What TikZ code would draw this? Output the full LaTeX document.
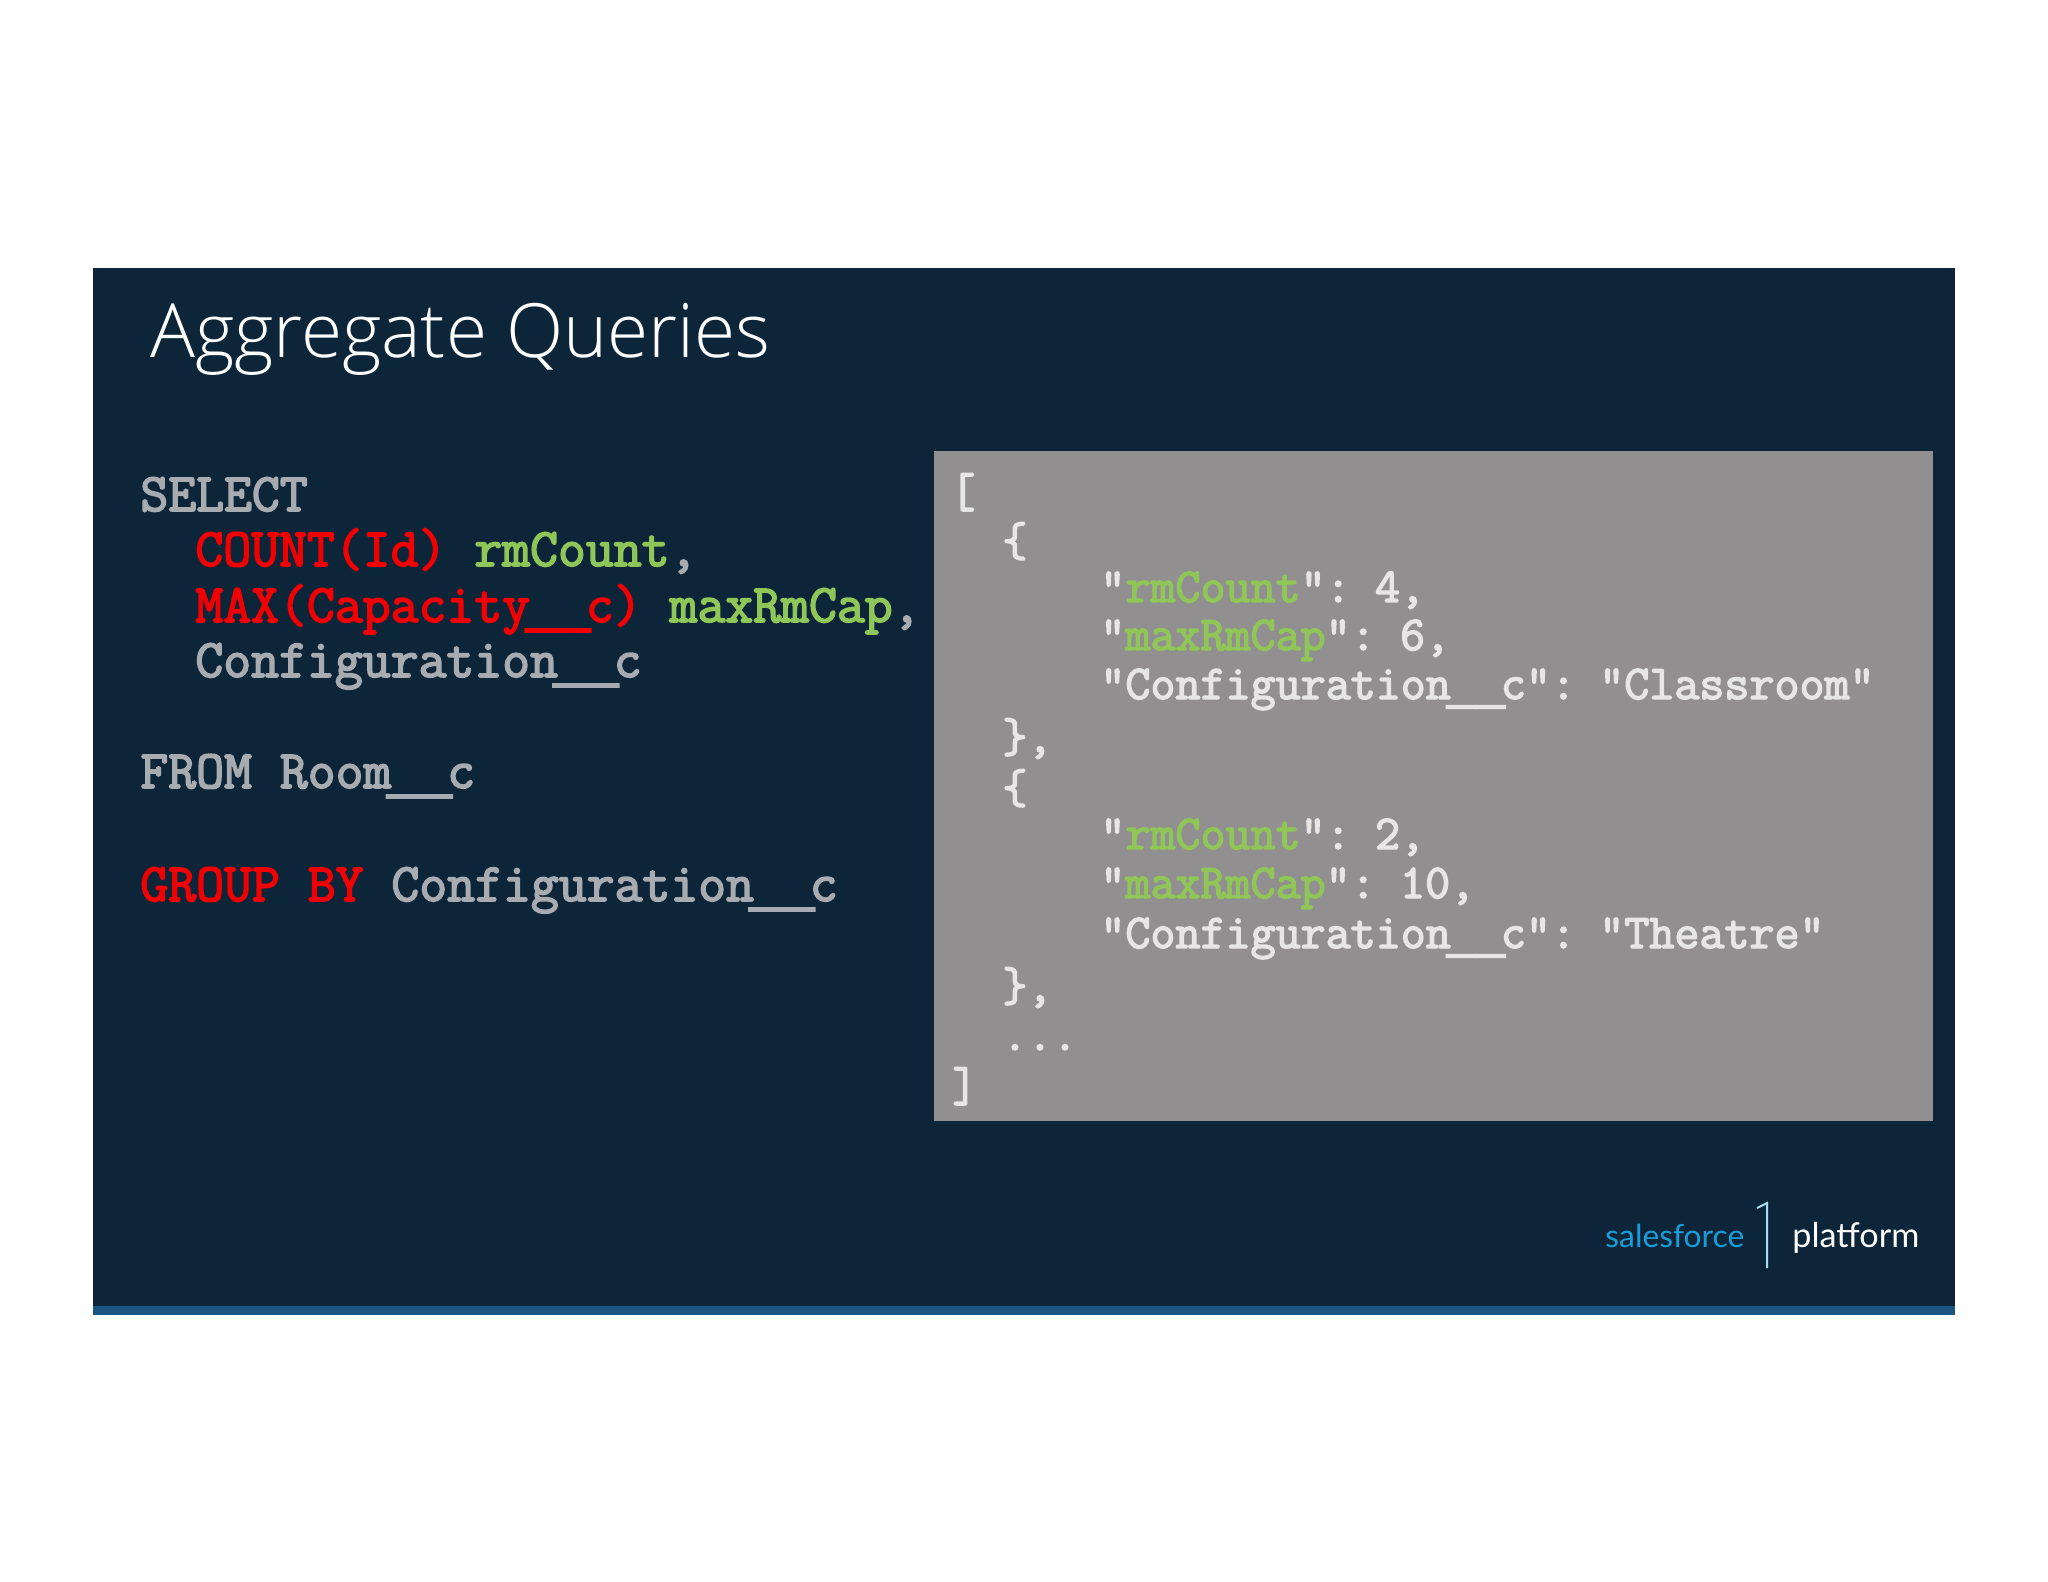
\documentclass[tikz,border=0pt]{standalone}
\usepackage{fontspec}
\setmainfont{Open Sans}[UprightFont=* Light]
\newfontfamily\logofont{Lato}
\newfontfamily\codefont{Latin Modern Mono}[FakeBold=3]
\newfontfamily\underfont{Liberation Mono Bold}[FakeBold=4]
\definecolor{panelblue}{HTML}{0D2539}
\definecolor{barblue}{HTML}{1B5583}
\definecolor{boxgrey}{HTML}{918F90}
\definecolor{sqlgrey}{HTML}{A8ABAF}
\definecolor{jsongrey}{HTML}{E6E6E6}
\definecolor{aliasgreen}{HTML}{90C558}
\definecolor{keyred}{HTML}{F00000}
\definecolor{logoblue}{HTML}{1A9CD8}
\definecolor{ticklight}{HTML}{A5DDF0}
\newcommand{\kw}[1]{\textcolor{keyred}{#1}}
\newcommand{\al}[1]{\textcolor{aliasgreen}{#1}}
\newcommand{\dunder}{\makebox[1.03em][c]{\raisebox{-2pt}{\underfont\_\_}}}
\tikzset{
	sqlline/.style={anchor=base west, inner sep=0pt, text=sqlgrey, font=\codefont\fontsize{27.08}{30}\selectfont},
	jsonline/.style={anchor=base west, inner sep=0pt, text=jsongrey, font=\codefont\fontsize{24.3}{28}\selectfont},
	logotext/.style={anchor=base west, inner sep=0pt, font=\logofont\selectfont}
}
\begin{document}
\begin{tikzpicture}[x=0.5pt, y=-0.5pt]
		\useasboundingbox (0,0) rectangle (2048,1582);
		\fill[panelblue] (93,268) rectangle (1955,1306);
		\fill[barblue] (93,1306) rectangle (1955,1315);
		\fill[boxgrey] (934,451) rectangle (1933,1121);
		\node[anchor=base west, inner sep=0pt, text=white, font=\fontsize{37.4}{42}\selectfont] (title) at (150,358) {Aggregate Queries};
		\node[sqlline] (select) at (140,511) {SELECT};
		\node[sqlline] (count) at (195,566) {\kw{COUNT(Id)} \al{rmCount},};
		\node[sqlline] (max) at (195,622) {\kw{MAX(Capacity\dunder c)} \al{maxRmCap},};
		\node[sqlline] (config) at (195,677) {Configuration\dunder c};
		\node[sqlline] (from) at (140,788) {FROM Room\dunder c};
		\node[sqlline] (group) at (140,901) {\kw{GROUP BY} Configuration\dunder c};
		\node[jsonline] (open) at (950,507) {[};
		\node[jsonline] (obja) at (1002,556) {\{};
		\node[jsonline] (rma) at (1100,602) {"\al{rmCount}":\hspace{-4.5pt} 4,};
		\node[jsonline] (capa) at (1100,650) {"\al{maxRmCap}":\hspace{-4.5pt} 6,};
		\node[jsonline] (cfga) at (1100,699) {"Configuration\dunder c":\hspace{-5pt} "Classroom"};
		\node[jsonline] (enda) at (1002,752) {\},};
		\node[jsonline] (objb) at (1002,803) {\{};
		\node[jsonline] (rmb) at (1100,849) {"\al{rmCount}":\hspace{-4.5pt} 2,};
		\node[jsonline] (capb) at (1100,898) {"\al{maxRmCap}":\hspace{-4.5pt} 10,};
		\node[jsonline] (cfgb) at (1100,948) {"Configuration\dunder c":\hspace{-5pt} "Theatre"};
		\node[jsonline] (endb) at (1002,1001) {\},};
		\node[jsonline] (dots) at (1002,1050) {...};
		\node[jsonline] (close) at (952,1101) {]};
		\node[logotext, text=logoblue, font=\logofont\fontsize{15.9}{20}\selectfont] (sales) at (1605,1247) {salesforce};
		\node[logotext, text=white, font=\logofont\fontsize{17.1}{20}\selectfont] (platform) at (1792,1247) {platform};
		\coordinate (ticka) at (1757,1208);
		\coordinate (tickb) at (1767,1203);
		\coordinate (tickc) at (1767,1268);
		\draw[ticklight, line width=1pt] (ticka) -- (tickb) -- (tickc);
		\end{tikzpicture}
\end{document}
